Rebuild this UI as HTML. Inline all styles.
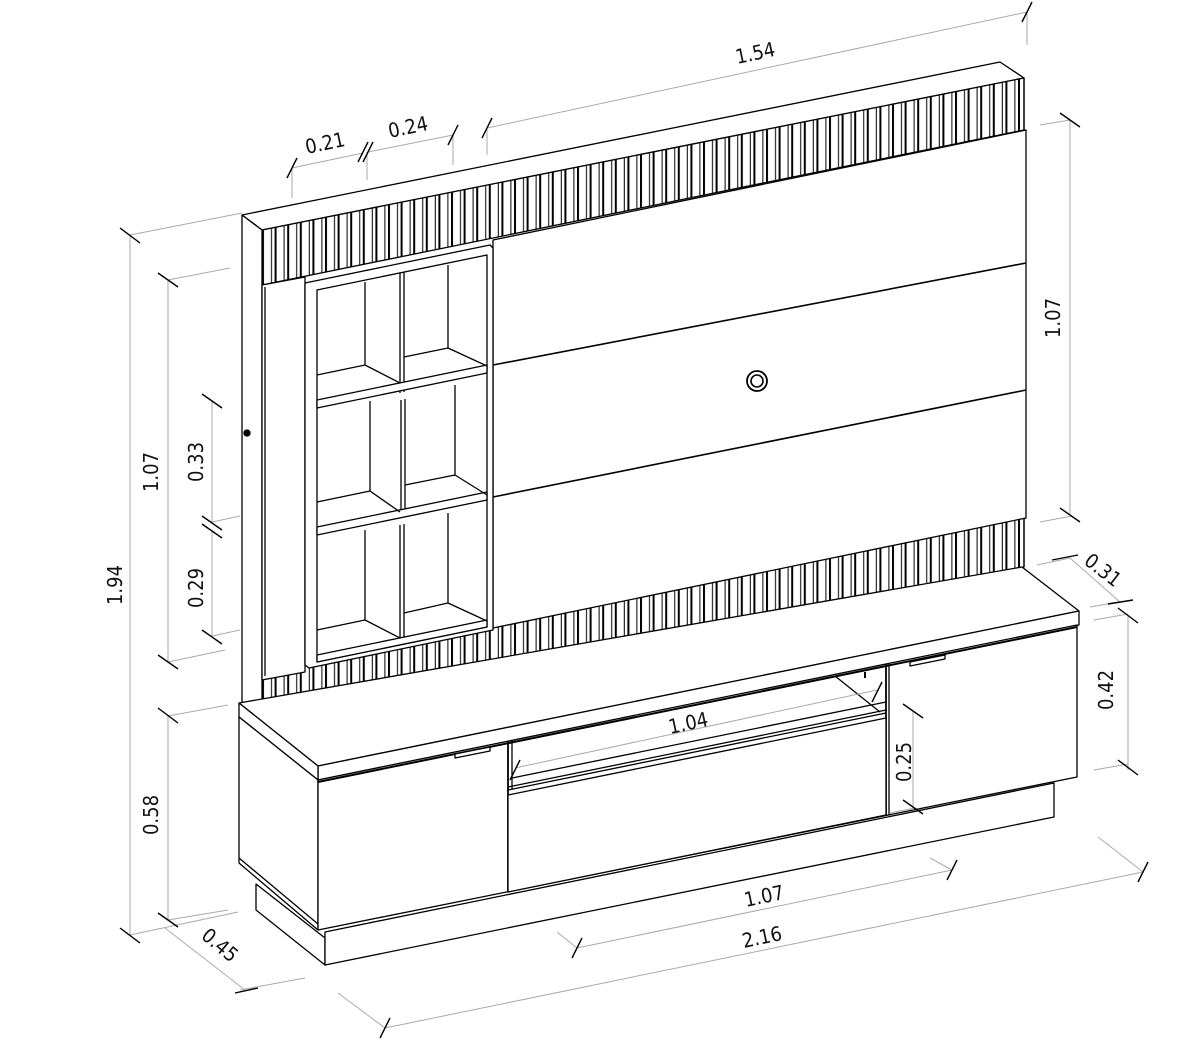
<!DOCTYPE html>
<html><head><meta charset="utf-8"><style>
html,body{margin:0;padding:0;background:#fff;}
svg{display:block;}
text{font-family:"DejaVu Sans Condensed","Liberation Sans",sans-serif;font-size:20px;fill:#111;}
</style></head><body>
<svg width="1197" height="1049" viewBox="0 0 1197 1049" xmlns="http://www.w3.org/2000/svg">
<defs>
<pattern id="fl" patternUnits="userSpaceOnUse" width="12.6" height="20" x="262" y="0">
<rect width="12.6" height="20" fill="#fff"/>
<line x1="1" y1="0" x2="1" y2="20" stroke="#000" stroke-width="2"/>
<line x1="9.5" y1="0" x2="9.5" y2="20" stroke="#000" stroke-width="1"/>
</pattern>
</defs>
<g fill="none" stroke="#000" stroke-width="1.3" stroke-linejoin="round">
<polygon points="242,215 1000,62 1024,78 262,230" fill="#fff"/>
<polygon points="262,230 1024,78 1024,130 262,285" fill="url(#fl)"/>
<polygon points="262,672 1024,518 1024,567 262,720" fill="url(#fl)"/>
<line x1="1024" y1="78" x2="1024" y2="567"/>
<polygon points="242,215 262,230 262,720 242,705" fill="#fff"/>
<circle cx="247" cy="433" r="3" fill="#000"/>
<polygon points="262,285 305,277 305,672 262,680" fill="#fff"/>
<line x1="265" y1="287" x2="265" y2="676"/>
<polygon points="493,240 1026,130 1026,518 493,628" fill="#fff"/>
<line x1="493" y1="365" x2="1026" y2="263" stroke-width="1.6"/>
<line x1="493" y1="497" x2="1026" y2="390" stroke-width="1.6"/>
<circle cx="757" cy="381" r="10" stroke-width="1.8"/>
<circle cx="757" cy="381" r="6" stroke-width="1.6"/>
<polygon points="305,283 490,245 493,248 493,630 309,668 305,665" fill="#fff"/>
<polygon points="317,290 487,255 487,627 317,662" fill="#fff"/>
<line x1="400" y1="273" x2="400" y2="393"/>
<line x1="404" y1="272" x2="404" y2="392"/>
<line x1="400" y1="525" x2="400" y2="643"/>
<line x1="404" y1="524" x2="404" y2="643"/>
<line x1="401" y1="400" x2="401" y2="517"/>
<line x1="405" y1="399" x2="405" y2="516"/>
<polygon points="317,400 487,365 487,373 317,408" fill="#fff"/>
<polygon points="317,527 487,492 487,500 317,535" fill="#fff"/>
<polygon points="317,655 487,620 487,627 317,662" fill="#fff"/>
<path d="M365,282 V365 M317,375 L365,365 L400,383"/>
<path d="M448,265 V348 M404,357 L448,348 L487,366"/>
<path d="M370,401 V491 M317,502 L370,491 L400,512"/>
<path d="M455,385 V475 M405,485 L455,475 L487,495"/>
<path d="M365,530 V620 M317,630 L365,620 L400,638"/>
<path d="M448,513 V603 M404,613 L448,603 L487,621"/>
<polygon points="239,703 1022,567 1079,611 318,766" fill="#fff"/>
<polygon points="318,766 1079,611 1079,625 318,780" fill="#fff"/>
<polygon points="239,703 318,766 318,780 239,717" fill="#fff"/>
<polygon points="256,884 325,938 325,965 256,910" fill="#fff"/>
<polygon points="325,932 1054,783 1054,817 325,965" fill="#fff"/>
<polygon points="239,717 318,780 318,930 239,863" fill="#fff"/>
<line x1="239" y1="858" x2="318" y2="924"/>
<polygon points="318,780 1077,625 1077,777 318,930" fill="#fff"/>
<line x1="318" y1="782" x2="1077" y2="627" stroke-width="2"/>
<line x1="508" y1="741" x2="508" y2="892" stroke-width="1.8"/>
<line x1="512" y1="741" x2="512" y2="790"/>
<line x1="886" y1="664" x2="886" y2="815" stroke-width="1.8"/>
<line x1="889" y1="663" x2="889" y2="815"/>
<polygon points="508,795 886,718 886,815 508,892" fill="#fff"/>
<line x1="508" y1="790" x2="886" y2="713"/>
<line x1="508" y1="787" x2="886" y2="710"/>
<line x1="512" y1="778" x2="886" y2="702"/>
<line x1="835" y1="676" x2="880" y2="712"/>
<line x1="865" y1="672" x2="865" y2="678" stroke-width="2"/>
<polygon points="455,754 490,747 490,751 455,758" fill="#fff"/>
<polygon points="910,662 945,655 945,659 910,666" fill="#fff"/>
</g>
<g stroke="#aaa" stroke-width="1" fill="none">
<line x1="130" y1="235" x2="242" y2="213"/>
<line x1="130" y1="235" x2="130" y2="935"/>
<line x1="130" y1="935" x2="238" y2="912"/>
<line x1="168" y1="280" x2="230" y2="268"/>
<line x1="168" y1="280" x2="168" y2="662"/>
<line x1="168" y1="662" x2="225" y2="650"/>
<line x1="212" y1="400" x2="212" y2="522"/>
<line x1="212" y1="530" x2="212" y2="636"/>
<line x1="212" y1="522" x2="240" y2="516"/>
<line x1="212" y1="636" x2="240" y2="630"/>
<line x1="168" y1="716" x2="228" y2="705"/>
<line x1="168" y1="716" x2="168" y2="920"/>
<line x1="168" y1="920" x2="228" y2="910"/>
<line x1="165" y1="928" x2="245" y2="990"/>
<line x1="240" y1="990" x2="305" y2="978"/>
<line x1="292" y1="168" x2="363" y2="153"/>
<line x1="292" y1="168" x2="292" y2="198"/>
<line x1="368" y1="152" x2="453" y2="135"/>
<line x1="367" y1="152" x2="367" y2="180"/>
<line x1="453" y1="135" x2="453" y2="165"/>
<line x1="487" y1="128" x2="1027" y2="12"/>
<line x1="487" y1="128" x2="487" y2="155"/>
<line x1="1027" y1="12" x2="1027" y2="45"/>
<line x1="1070" y1="120" x2="1070" y2="515"/>
<line x1="1040" y1="125" x2="1070" y2="120"/>
<line x1="1040" y1="522" x2="1072" y2="516"/>
<line x1="1037" y1="565" x2="1070" y2="558"/>
<line x1="1070" y1="558" x2="1120" y2="602"/>
<line x1="1090" y1="607" x2="1118" y2="602"/>
<line x1="1128" y1="615" x2="1128" y2="770"/>
<line x1="1094" y1="620" x2="1128" y2="614"/>
<line x1="1094" y1="770" x2="1128" y2="764"/>
<line x1="515" y1="768" x2="877" y2="690"/>
<line x1="913" y1="712" x2="913" y2="810"/>
<line x1="890" y1="813" x2="915" y2="808"/>
<line x1="577" y1="948" x2="952" y2="870"/>
<line x1="557" y1="932" x2="577" y2="948"/>
<line x1="930" y1="858" x2="952" y2="870"/>
<line x1="385" y1="1028" x2="1143" y2="872"/>
<line x1="338" y1="993" x2="385" y2="1028"/>
<line x1="1098" y1="837" x2="1143" y2="872"/>
</g>
<g stroke="#000" stroke-width="1.4">
<line x1="120" y1="228" x2="140" y2="243"/>
<line x1="120" y1="928" x2="140" y2="943"/>
<line x1="158" y1="273" x2="178" y2="287"/>
<line x1="158" y1="655" x2="178" y2="669"/>
<line x1="202" y1="394" x2="222" y2="408"/>
<line x1="202" y1="516" x2="222" y2="530"/>
<line x1="202" y1="524" x2="222" y2="538"/>
<line x1="202" y1="630" x2="222" y2="644"/>
<line x1="158" y1="708" x2="178" y2="723"/>
<line x1="158" y1="913" x2="178" y2="927"/>
<line x1="235" y1="993" x2="258" y2="988"/>
<line x1="287" y1="178" x2="297" y2="158"/>
<line x1="358" y1="162" x2="368" y2="142"/>
<line x1="363" y1="162" x2="373" y2="142"/>
<line x1="448" y1="145" x2="458" y2="125"/>
<line x1="482" y1="138" x2="492" y2="118"/>
<line x1="1022" y1="22" x2="1032" y2="2"/>
<line x1="1060" y1="113" x2="1080" y2="127"/>
<line x1="1060" y1="508" x2="1080" y2="522"/>
<line x1="1052" y1="560" x2="1078" y2="555"/>
<line x1="1108" y1="604" x2="1133" y2="600"/>
<line x1="1118" y1="608" x2="1138" y2="623"/>
<line x1="1118" y1="760" x2="1138" y2="775"/>
<line x1="510" y1="780" x2="520" y2="760"/>
<line x1="872" y1="702" x2="882" y2="682"/>
<line x1="903" y1="704" x2="923" y2="718"/>
<line x1="903" y1="800" x2="923" y2="814"/>
<line x1="572" y1="958" x2="582" y2="938"/>
<line x1="947" y1="880" x2="957" y2="860"/>
<line x1="380" y1="1038" x2="390" y2="1018"/>
<line x1="1138" y1="882" x2="1148" y2="862"/>
</g>
<text x="755" y="60" transform="rotate(-12 755 52)" text-anchor="middle">1.54</text>
<text x="325" y="150" transform="rotate(-12 325 143)" text-anchor="middle">0.21</text>
<text x="408" y="134" transform="rotate(-12 408 127)" text-anchor="middle">0.24</text>
<text x="122" y="585" transform="rotate(-90 122 585)" text-anchor="middle">1.94</text>
<text x="158" y="472" transform="rotate(-90 158 472)" text-anchor="middle">1.07</text>
<text x="203" y="462" transform="rotate(-90 203 462)" text-anchor="middle">0.33</text>
<text x="203" y="588" transform="rotate(-90 203 588)" text-anchor="middle">0.29</text>
<text x="158" y="815" transform="rotate(-90 158 815)" text-anchor="middle">0.58</text>
<text x="220" y="952" transform="rotate(40 220 945)" text-anchor="middle">0.45</text>
<text x="1060" y="318" transform="rotate(-90 1060 318)" text-anchor="middle">1.07</text>
<text x="1103" y="577" transform="rotate(38 1103 570)" text-anchor="middle">0.31</text>
<text x="1113" y="690" transform="rotate(-90 1113 690)" text-anchor="middle">0.42</text>
<text x="911" y="762" transform="rotate(-90 911 762)" text-anchor="middle">0.25</text>
<text x="688" y="730" transform="rotate(-12 688 722)" text-anchor="middle">1.04</text>
<text x="764" y="903" transform="rotate(-12 764 896)" text-anchor="middle">1.07</text>
<text x="762" y="944" transform="rotate(-12 762 937)" text-anchor="middle">2.16</text>
</svg>
</body></html>
